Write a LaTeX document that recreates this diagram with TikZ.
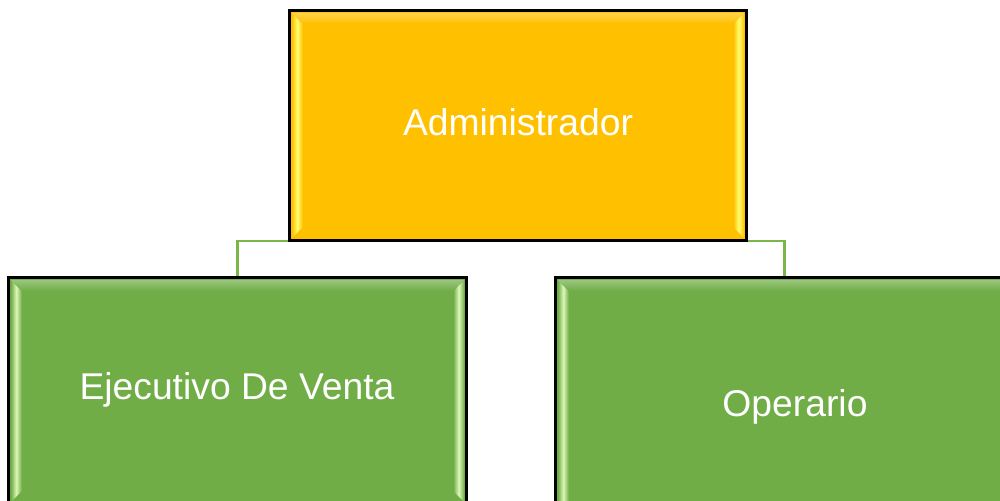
\documentclass[tikz,border=0pt]{standalone}
\usepackage{fontspec}
\setmainfont{Liberation Sans}
\usetikzlibrary{calc}
\definecolor{gold}{HTML}{FFC000}
\definecolor{goldlight}{HTML}{FFFF70}
\definecolor{grn}{HTML}{70AD47}
\definecolor{grnlight}{HTML}{DDF7B8}
\definecolor{conn}{HTML}{7AB648}
\tikzset{
  boxstyle/.style={draw=black, line width=0.6pt, inner sep=0pt},
  lbl/.style={text=white, font=\fontsize{10.6pt}{12pt}\selectfont, inner sep=0pt, anchor=base},
  connector/.style={draw=conn, line width=0.6pt}
}
\newcommand{\mybevel}[3]{%
  \shade[left color=#2, right color=#2, middle color=#3]
    ($(#1.north west)+(3,3)$) -- ($(#1.north west)+(14,14)$) -- ($(#1.south west)+(14,-14)$) -- ($(#1.south west)+(3,-3)$) -- cycle;
  \shade[left color=#2, right color=#2, middle color=#3]
    ($(#1.north east)+(-3,3)$) -- ($(#1.north east)+(-14,14)$) -- ($(#1.south east)+(-14,-14)$) -- ($(#1.south east)+(-3,-3)$) -- cycle;
  \shade[top color=#2!70!white, bottom color=#2]
    ($(#1.north west)+(3,3)$) -- ($(#1.north east)+(-3,3)$) -- ($(#1.north east)+(-14,14)$) -- ($(#1.north west)+(14,14)$) -- cycle;
  \draw[black, line width=0.6pt] (#1.north west) rectangle (#1.south east);
}
\begin{document}
\begin{tikzpicture}[x=0.01cm,y=-0.01cm]
\useasboundingbox (0,0) rectangle (1000,501);
\clip (0,0) rectangle (1000,501);
\fill[white] (0,0) rectangle (1000,501);
% boxes
\node[boxstyle, fill=gold, minimum width=4.56cm, minimum height=2.29cm] (top) at (518,125.5) {};
\node[boxstyle, fill=grn, minimum width=4.57cm, minimum height=2.26cm] (left) at (237.5,391) {};
\node[boxstyle, fill=grn, minimum width=4.57cm, minimum height=2.6cm] (right) at (784.5,408) {};
% connectors
\draw[connector] (top.south west) -- (left.north |- top.south) -- (left.north);
\draw[connector] (top.south east) -- (right.north |- top.south) -- (right.north);
\mybevel{top}{gold}{goldlight}
\mybevel{left}{grn}{grnlight}
\mybevel{right}{grn}{grnlight}
% labels
\node[lbl] (ttop) at (518,136) {Administrador};
\node[lbl] (tleft) at (237,400) {Ejecutivo De Venta};
\node[lbl] (tright) at (795,417) {Operario};
\end{tikzpicture}
\end{document}
